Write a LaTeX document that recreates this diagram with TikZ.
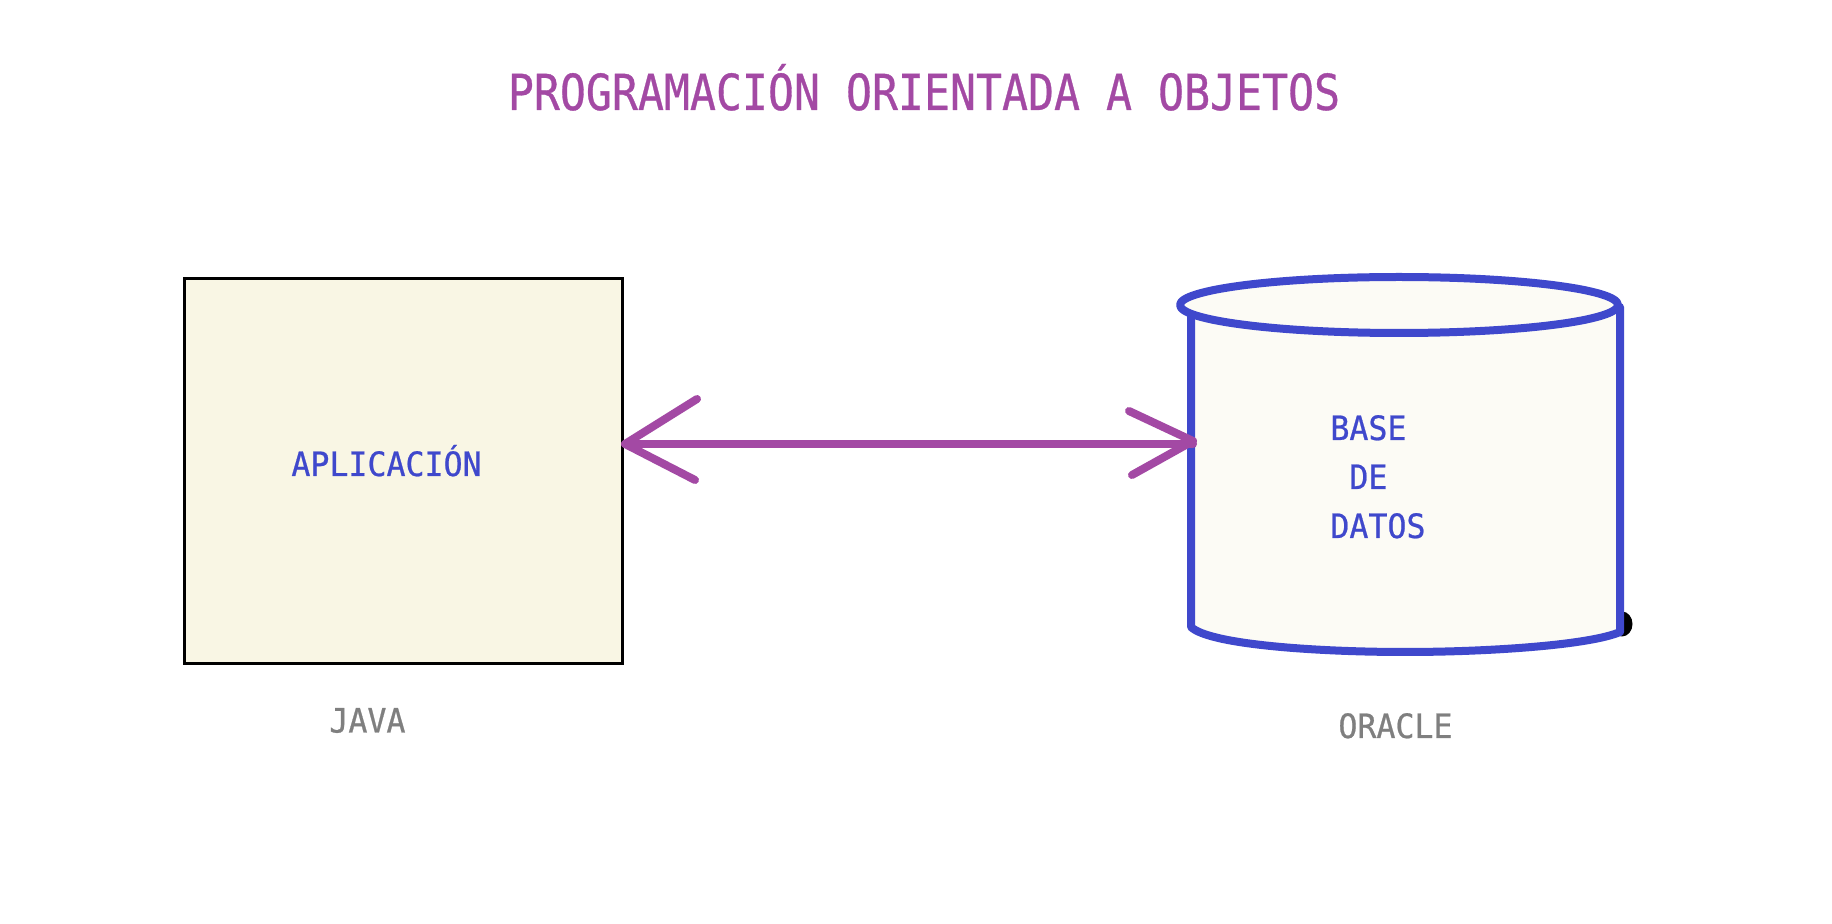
\documentclass[tikz,border=0pt]{standalone}
\usepackage{fontspec}
\setmonofont[FakeBold=0.7]{DejaVu Sans Mono}
\definecolor{pur}{HTML}{A349A4}
\definecolor{blu}{HTML}{3F48CC}
\definecolor{gry}{HTML}{7F7F7F}
\definecolor{creamA}{HTML}{F9F6E4}
\definecolor{creamB}{HTML}{FCFBF5}
\tikzset{
  lab/.style={anchor=base west,inner sep=0pt,yscale=1.06,transform shape,font=\ttfamily\fontsize{15.8pt}{18pt}\selectfont},
  ttl/.style={anchor=base west,inner sep=0pt,text=pur,yscale=1.15,transform shape,font=\ttfamily\fontsize{21.6pt}{24pt}\selectfont},
  conn/.style={draw=pur,line width=4pt,line cap=round,line join=round},
  cyl/.style={draw=blu,line width=4pt,fill=creamB,line join=round}
}
\begin{document}
\begin{tikzpicture}[x=0.5pt,y=-0.5pt]
\useasboundingbox (0,0) rectangle (1832,924);
\fill[white] (0,0) rectangle (1832,924);
\node[ttl] (title) at (507.5,110) {PROGRAMACIÓN ORIENTADA A OBJETOS};
\node[draw=black,line width=1.5pt,fill=creamA,inner sep=0pt,minimum width=219pt,minimum height=192.75pt,anchor=north west] (app) at (183,277) {};
\node[lab,text=blu] (apl) at (291,476) {APLICACIÓN};
\node[lab,text=gry] (java) at (329,732.5) {JAVA};
% cylinder
\fill[black] (1622,624) ellipse[x radius=10.5,y radius=12.5];
\path[cyl] (1191,313) -- (1191,627) .. controls (1210,645) and (1320,652) .. (1405,652) .. controls (1490,652) and (1590,645) .. (1620,632) -- (1620,307) -- cycle;
\path[cyl] (1399,305) ellipse[x radius=219,y radius=28];
\node[lab,text=blu] (db1) at (1330,440) {BASE};
\node[lab,text=blu] (db2) at (1349,489) {DE};
\node[lab,text=blu] (db3) at (1330,538) {DATOS};
\node[lab,text=gry] (ora) at (1338,738) {ORACLE};
% connector
\coordinate (la) at (625,444);
\coordinate (ra) at (1193,444);
\coordinate (lu) at (697,399);
\coordinate (ld) at (695,480);
\coordinate (ru) at (1129,411);
\coordinate (rd) at (1132,475);
\coordinate (rt) at (1193,441);
\draw[conn] (la) -- (ra);
\draw[conn] (lu) -- (la) -- (ld);
\draw[conn] (ru) -- (rt) -- (rd);
\end{tikzpicture}
\end{document}
